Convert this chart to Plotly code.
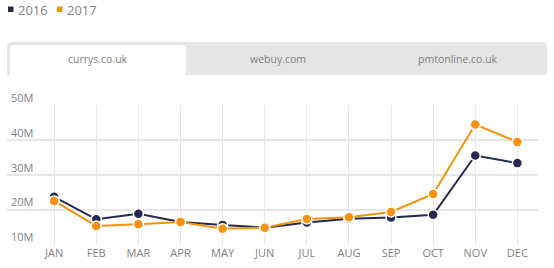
import plotly.graph_objects as go

months = ["JAN", "FEB", "MAR", "APR", "MAY", "JUN", "JUL", "AUG", "SEP", "OCT", "NOV", "DEC"]
series_2016 = [23.7, 17.2, 18.8, 16.4, 15.6, 14.8, 16.3, 17.4, 17.7, 18.5, 35.6, 33.4]
series_2017 = [22.5, 15.3, 15.8, 16.4, 14.5, 14.8, 17.3, 17.8, 19.3, 24.5, 44.5, 39.5]
tick_vals = [10, 20, 30, 40, 50]
tick_text = ["10M", "20M", "30M", "40M", "50M"]
tabs = ["currys.co.uk", "webuy.com", "pmtonline.co.uk"]
series_names = ["2016", "2017"]

NAVY = "#232a4e"
ORANGE = "#f5910f"
TXT = "#7f7f7f"

W, H = 554, 268
Y_LO, Y_HI = 9.8, 50.15
PXM = (244 - 106) / 40.0  # px per M
ML, MR = 7, 16
MT = int(round(106 - (Y_HI - 50) * PXM))
MB = int(round(24 - (10 - Y_LO) * PXM))
PW = W - ML - MR
PH = H - MT - MB

def px(x):
    return (x - ML) / PW

def py(y):
    return (H - MB - y) / PH

fig = go.Figure()
for name, vals, col in [(series_names[0], series_2016, NAVY), (series_names[1], series_2017, ORANGE)]:
    fig.add_trace(go.Scatter(
        x=months, y=vals, mode="lines+markers", name=name, showlegend=False,
        line=dict(color=col, width=2),
        marker=dict(size=10, color=col, line=dict(color="white", width=1.5)),
        cliponaxis=False,
    ))

def rounded_top(x0, y0, x1, y1, r):
    pts = [
        f"M {px(x0)} {py(y1)}",
        f"L {px(x0)} {py(y0 + r)}",
        f"Q {px(x0)} {py(y0)} {px(x0 + r)} {py(y0)}",
        f"L {px(x1 - r)} {py(y0)}",
        f"Q {px(x1)} {py(y0)} {px(x1)} {py(y0 + r)}",
        f"L {px(x1)} {py(y1)}",
        "Z",
    ]
    return " ".join(pts)

shapes = [
    dict(type="path", xref="paper", yref="paper", path=rounded_top(7, 42, 547, 75, 5),
         fillcolor="#e5e5e5", line=dict(width=0), layer="below"),
    dict(type="path", xref="paper", yref="paper", path=rounded_top(10, 45, 186, 75, 4),
         fillcolor="white", line=dict(width=0), layer="below"),
]
annotations = []

# legend (squares + labels)
for name, col, sx in [(series_names[0], NAVY, 8), (series_names[1], ORANGE, 57)]:
    shapes.append(dict(type="rect", xref="paper", yref="paper",
                       x0=px(sx), x1=px(sx + 5.5), y0=py(12), y1=py(6.5),
                       fillcolor=col, line=dict(width=0)))
    annotations.append(dict(text=name, x=px(sx + 7.5), y=py(9.5), xref="paper", yref="paper",
                            showarrow=False, xanchor="left", yanchor="middle",
                            font=dict(size=13, color=TXT, family="Open Sans")))

tab_centers = [98, 278, 458]
for t, cx in zip(tabs, tab_centers):
    annotations.append(dict(
        text=t, x=px(cx), y=py(59), xref="paper", yref="paper", showarrow=False,
        xanchor="center", yanchor="middle", font=dict(size=10.5, color=TXT, family="Open Sans"),
    ))

fig.update_layout(
    width=W, height=H,
    margin=dict(l=ML, r=MR, t=MT, b=MB, autoexpand=False),
    paper_bgcolor="white", plot_bgcolor="white",
    font=dict(family="Open Sans", color=TXT, size=11),
    shapes=shapes, annotations=annotations, showlegend=False,
    xaxis=dict(
        range=[-1.12, 11.49], showgrid=True, gridcolor="#e6e6e6", gridwidth=1,
        zeroline=False, showline=False, ticks="", ticklen=0, tickfont=dict(size=11, color=TXT),
        fixedrange=True, automargin=False,
    ),
    yaxis=dict(
        range=[Y_LO, Y_HI], tickvals=tick_vals, ticktext=tick_text,
        showgrid=True, gridcolor="#e6e6e6", gridwidth=1.5, zeroline=False, showline=False,
        ticks="", ticklen=0,
        ticklabelposition="inside", ticklabelshift=-7, ticklabelstandoff=1,
        ticklabeloverflow="allow",
        tickfont=dict(size=11, color=TXT), fixedrange=True, automargin=False,
    ),
)

fig.write_html("out.html")
